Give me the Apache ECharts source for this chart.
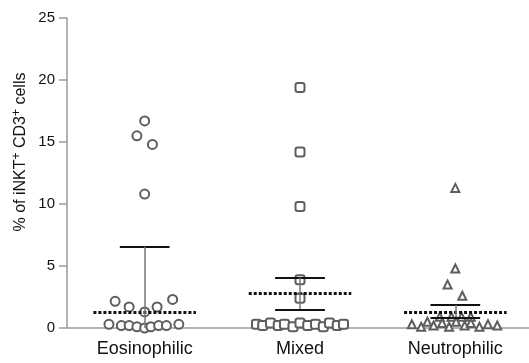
<!DOCTYPE html>
<html>
<head>
<meta charset="utf-8">
<script src="https://cdn.jsdelivr.net/npm/echarts@6/dist/echarts.min.js"></script>
<style>
  html, body { margin: 0; padding: 0; background: #fff; }
  #chart { width: 529px; height: 363px; }
</style>
</head>
<body>
<div id="chart"></div>
<script>
  // groups on the x axis
  const categories = ["Eosinophilic", "Mixed", "Neutrophilic"];
  const yTicks = [0, 5, 10, 15, 20, 25];

  // values, with the horizontal scatter offset of each point
  const eosValues = [16.7, 15.5, 14.8, 10.8, 2.15, 2.3, 1.7, 1.7, 1.3, 0.3, 0.2, 0.2, 0.1, 0.0, 0.1, 0.2, 0.2, 0.3];
  const eosOffsets = [0, -0.05, 0.05, 0, -0.19, 0.18, -0.1, 0.08, 0, -0.23, -0.15, -0.1, -0.05, 0, 0.04, 0.09, 0.14, 0.22];

  const mixValues = [19.4, 14.2, 9.8, 3.9, 2.4, 0.3, 0.2, 0.4, 0.2, 0.3, 0.1, 0.4, 0.2, 0.3, 0.1, 0.4, 0.2, 0.3];
  const mixOffsets = [0, 0, 0, 0, 0, -0.28, -0.24, -0.19, -0.14, -0.1, -0.045, 0, 0.05, 0.1, 0.15, 0.19, 0.24, 0.28];

  const neuValues = [11.3, 4.8, 3.5, 2.6, 0.9, 0.9, 0.9, 0.9, 0.3, 0.1, 0.5, 0.2, 0.4, 0.1, 0.5, 0.2, 0.4, 0.1, 0.3, 0.2];
  const neuOffsets = [0, 0, -0.05, 0.045, -0.1, -0.025, 0.04, 0.1, -0.28, -0.22, -0.18, -0.14, -0.085, -0.04, 0.005, 0.06, 0.1, 0.155, 0.21, 0.27];

  // dashed line = mean, solid bars = upper / lower error
  const means = [1.25, 2.8, 1.3];
  const upper = [6.55, 4.05, 1.85];
  const lower = [null, 1.5, 0.8];

  const symbols = ["circle", "roundRect", "triangle"];
  const sizes = [9, 9, 8];

  function points(values, offsets, i) {
    return values.map((v, k) => [i + 0.5 + offsets[k], v]);
  }

  function errorLines(i) {
    const c = i + 0.5;
    const solid = { color: "#111", width: 2, type: "solid" };
    const lines = [
      [{ coord: [c - 0.33, means[i]], lineStyle: { color: "#111", width: 3, type: [3, 2] } }, { coord: [c + 0.33, means[i]] }],
      [{ coord: [c - 0.16, upper[i]], lineStyle: solid }, { coord: [c + 0.16, upper[i]] }],
      [{ coord: [c, upper[i]], lineStyle: { color: "#777", width: 1.5, type: "solid" } }, { coord: [c, lower[i] == null ? 0 : lower[i]] }],
    ];
    if (lower[i] != null) {
      lines.push([{ coord: [c - 0.16, lower[i]], lineStyle: solid }, { coord: [c + 0.16, lower[i]] }]);
    }
    return lines;
  }

  const groups = [
    points(eosValues, eosOffsets, 0),
    points(mixValues, mixOffsets, 1),
    points(neuValues, neuOffsets, 2),
  ];

  const chart = echarts.init(document.getElementById("chart"), null, { renderer: "canvas" });

  chart.setOption({
    animation: false,
    backgroundColor: "#fff",
    grid: { left: 67, right: -4, top: 18, bottom: 35, outerBoundsMode: "none" },
    xAxis: [
      {
        type: "value",
        min: 0,
        max: 3,
        axisLine: { show: true, lineStyle: { color: "#9a9a9a", width: 1.5 } },
        axisTick: { show: false },
        axisLabel: { show: false },
        splitLine: { show: false },
      },
      {
        type: "category",
        position: "bottom",
        data: categories,
        axisLine: { show: false },
        axisTick: { show: false },
        axisLabel: {
          margin: 12,
          fontFamily: "Liberation Sans",
          fontSize: 18,
          color: "#111",
        },
      },
    ],
    yAxis: {
      type: "value",
      min: 0,
      max: 25,
      interval: 5,
      axisLine: { show: true, lineStyle: { color: "#9a9a9a", width: 1.5 } },
      axisTick: { show: true, length: 8, lineStyle: { color: "#9a9a9a", width: 1.5 } },
      splitLine: { show: false },
      axisLabel: {
        margin: 12,
        fontFamily: "Liberation Sans",
        fontSize: 15,
        color: "#111",
        formatter: (v) => (yTicks.includes(v) ? String(v) : ""),
      },
    },
    graphic: [
      {
        type: "text",
        x: 21,
        y: 152,
        rotation: Math.PI / 2,
        style: {
          text: "{a|% of iNKT}{s|+}{a| CD3}{s|+}{a| cells}",
          align: "center",
          verticalAlign: "middle",
          fill: "#111",
          rich: {
            a: { fontFamily: "Liberation Sans", fontSize: 16, fill: "#111", lineHeight: 20 },
            s: { fontFamily: "Liberation Sans", fontSize: 12, fill: "#111", lineHeight: 20, padding: [0, 0, 9, 0] },
          },
        },
      },
    ],
    series: groups.map((data, i) => ({
      type: "scatter",
      xAxisIndex: 0,
      symbol: symbols[i],
      symbolSize: sizes[i],
      itemStyle: { color: "#fff", borderColor: "#5e5e5e", borderWidth: 2, opacity: 1 },
      data: data,
      markLine: {
        silent: true,
        symbol: "none",
        label: { show: false },
        data: errorLines(i),
      },
    })),
  });
</script>
</body>
</html>
